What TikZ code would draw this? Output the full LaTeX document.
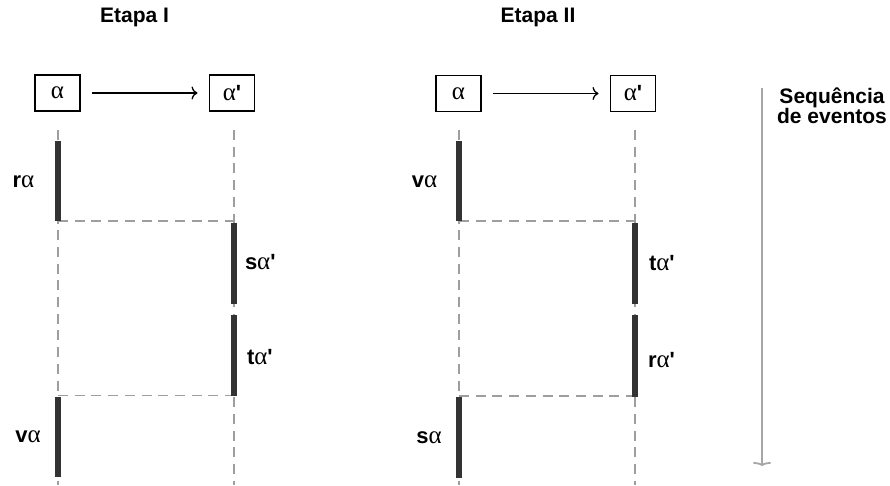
\documentclass[tikz,border=0pt]{standalone}
\usepackage{fontspec}
\setmainfont{Liberation Sans}
\newfontfamily\grk{Liberation Serif}
\usetikzlibrary{arrows.meta}
\newcommand{\al}{{\mdseries\grk\fontsize{25}{25}\selectfont α}}
\newcommand{\prm}{\textquotesingle}

\begin{document}
\begin{tikzpicture}[x=1pt,y=-1pt,
  every node/.style={inner sep=0pt,outer sep=0pt},
  objbox/.style={draw=black,line width=1.4pt,minimum width=45pt,minimum height=36pt,font=\fontsize{22}{22}\selectfont\bfseries},
  title/.style={font=\fontsize{21}{22}\selectfont\bfseries},
  evlabel/.style={font=\fontsize{22}{22}\selectfont\bfseries},
  msg/.style={line width=1.3pt,-{To[length=6pt,width=13pt]},shorten <=12pt,shorten >=12pt},
  lifeline/.style={draw=black!38,line width=1.4pt,dash pattern=on 10pt off 6.7pt},
  bar/.style={draw=black!80,line width=6pt},
  seqarrow/.style={draw=black!35,line width=1.8pt,-{To[length=4pt,width=18pt]}}
]
\useasboundingbox (0,0) rectangle (890,485);

% ---------- Etapa I ----------
\node[title] (t1) at (134.5,17) {Etapa I};
\node[objbox] (a1) at (57.5,93) {\al};
\node[objbox] (b1) at (232,93) {\al\prm};
\draw[msg] (a1.east) -- (b1.west);

\coordinate (a1top) at (58,130);
\coordinate (a1bot) at (58,485);
\coordinate (b1top) at (234,130);
\coordinate (b1bot) at (234,485);
\draw[lifeline] (a1top) -- (a1bot);
\draw[lifeline] (b1top) -- (b1bot);

\coordinate (a1h1) at (58,221);
\coordinate (b1h1) at (234,221);
\coordinate (a1h2) at (58,395.5);
\coordinate (b1h2) at (234,395.5);
\draw[lifeline] (a1h1) -- (b1h1);
\draw[lifeline] (a1h2) -- (b1h2);

\coordinate (r1s) at (58,141);  \coordinate (r1e) at (58,221);
\coordinate (s1s) at (234,223); \coordinate (s1e) at (234,304);
\coordinate (u1s) at (234,315); \coordinate (u1e) at (234,396);
\coordinate (v1s) at (58,397);  \coordinate (v1e) at (58,477);
\draw[bar] (r1s) -- (r1e);
\draw[bar] (s1s) -- (s1e);
\draw[bar] (u1s) -- (u1e);
\draw[bar] (v1s) -- (v1e);

\node[evlabel] (lr1) at (23.5,182) {r\al};
\node[evlabel,anchor=west] (ls1) at (245,262) {s\al\prm};
\node[evlabel,anchor=west] (lt1) at (247,357) {t\al\prm};
\node[evlabel] (lv1) at (28,437) {v\al};

% ---------- Etapa II ----------
\node[title] (t2) at (538,17) {Etapa II};
\node[objbox] (a2) at (458.5,93.5) {\al};
\node[objbox] (b2) at (633,93.5) {\al\prm};
\draw[msg] (a2.east) -- (b2.west);

\coordinate (a2top) at (459,130);
\coordinate (a2bot) at (459,485);
\coordinate (b2top) at (635,130);
\coordinate (b2bot) at (635,485);
\draw[lifeline] (a2top) -- (a2bot);
\draw[lifeline] (b2top) -- (b2bot);

\coordinate (a2h1) at (459,221);
\coordinate (b2h1) at (635,221);
\coordinate (a2h2) at (459,396);
\coordinate (b2h2) at (635,396);
\draw[lifeline] (a2h1) -- (b2h1);
\draw[lifeline] (a2h2) -- (b2h2);

\coordinate (v2s) at (459,141); \coordinate (v2e) at (459,221);
\coordinate (t2s) at (635,223); \coordinate (t2e) at (635,304);
\coordinate (r2s) at (635,315); \coordinate (r2e) at (635,397);
\coordinate (s2s) at (459,397); \coordinate (s2e) at (459,478);
\draw[bar] (v2s) -- (v2e);
\draw[bar] (t2s) -- (t2e);
\draw[bar] (r2s) -- (r2e);
\draw[bar] (s2s) -- (s2e);

\node[evlabel] (lv2) at (424.5,182) {v\al};
\node[evlabel,anchor=west] (lt2) at (649,263) {t\al\prm};
\node[evlabel,anchor=west] (lr2) at (648,360) {r\al\prm};
\node[evlabel] (ls2) at (429,438) {s\al};

% ---------- time axis ----------
\coordinate (seqtop) at (762,88);
\coordinate (seqbot) at (762,466);
\draw[seqarrow] (seqtop) -- (seqbot);
\node[font=\fontsize{21}{20}\selectfont\bfseries,align=center,anchor=north] (seq) at (832,88) {Sequência\\de eventos};
\end{tikzpicture}
\end{document}
